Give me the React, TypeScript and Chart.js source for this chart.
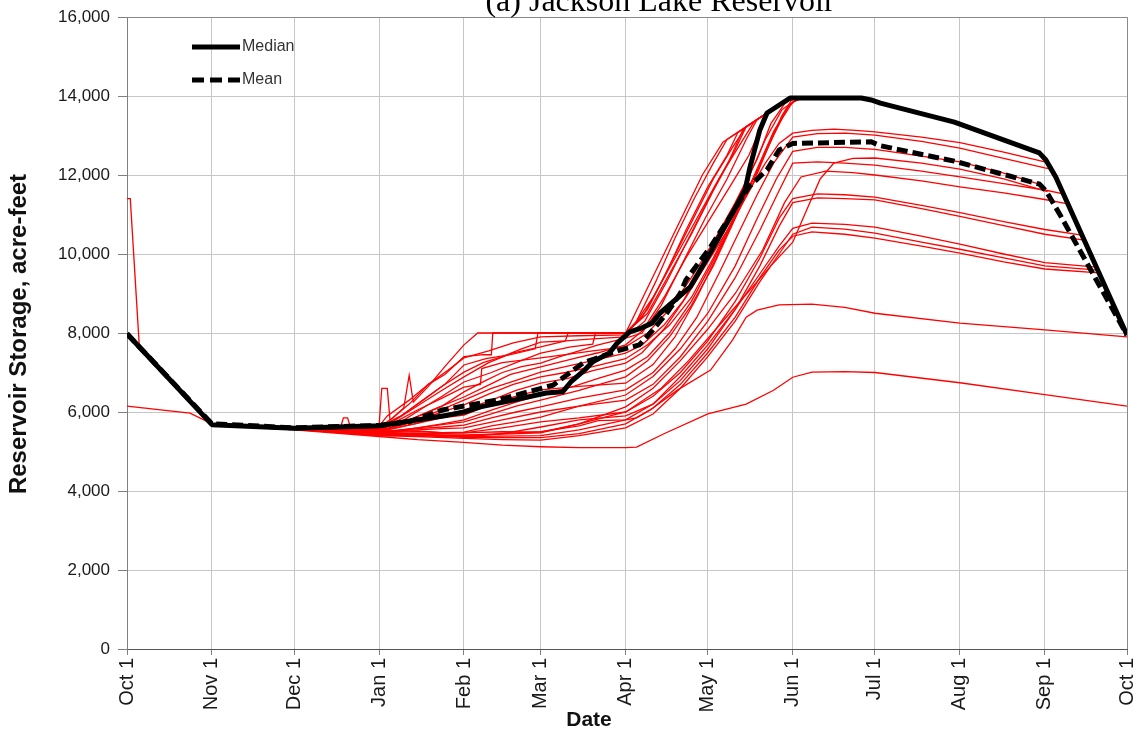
import { useEffect, useRef } from "react";
import { Chart, registerables } from "chart.js";

Chart.register(...registerables);

// Water-year axis: day 0 = Oct 1, day 365 = the following Oct 1
const MONTH_DAYS = [0, 31, 61, 92, 123, 151, 182, 212, 243, 273, 304, 335, 365];
const MONTH_LABELS = ["Oct 1", "Nov 1", "Dec 1", "Jan 1", "Feb 1", "Mar 1", "Apr 1", "May 1", "Jun 1", "Jul 1", "Aug 1", "Sep 1", "Oct 1"];
const Y_MIN = 0;
const Y_MAX = 16000;
const Y_STEP = 2000;

const TITLE = "(a) Jackson Lake Reservoir";
const X_TITLE = "Date";
const Y_TITLE = "Reservoir Storage, acre-feet";

// Median and mean storage, [day, acre-feet]
const median: number[][] = [[0, 7980], [31, 5680], [61, 5590], [92, 5650], [117, 5920], [123, 6000], [129, 6130], [141, 6300], [153, 6480], [159, 6510], [162, 6760], [167, 7060], [170, 7270], [176, 7490], [179, 7750], [183.5, 8030], [188, 8130], [191.6, 8250], [194.5, 8500], [205.5, 9160], [212.8, 10020], [221, 11030], [225.6, 11620], [227.4, 12200], [231, 13140], [233.6, 13570], [242, 13950], [268, 13950], [271.6, 13900], [275, 13820], [302, 13340], [333, 12560], [335.4, 12380], [339, 11950], [365, 7950]];
const mean: number[][] = [[0, 7980], [31, 5700], [61, 5600], [92, 5660], [103, 5750], [115, 6050], [123, 6150], [135, 6300], [147, 6520], [155.5, 6680], [166.4, 7240], [172.6, 7390], [180, 7570], [187, 7700], [191, 8000], [197, 8500], [202, 9010], [204, 9340], [213, 10180], [221, 11040], [227, 11700], [233.6, 12130], [238, 12630], [243, 12800], [271.6, 12840], [275, 12740], [302, 12350], [333, 11770], [335.4, 11600], [340.5, 11000], [365, 7950]];

// Individual simulated years, [day, acre-feet]
const trace01 = [[0, 11400], [1.2, 11400], [4.5, 7660], [31, 5700], [61, 5600], [92, 5640], [95, 5900], [103, 6300], [110, 6700], [116, 6950], [123, 7400], [130, 7450], [133, 7450], [133.5, 8000], [182, 8000], [189, 9000], [196, 10000], [203, 11000], [210, 12000], [217.5, 12830], [225, 13175], [233.6, 13570], [243, 13950]];
const trace02 = [[31, 5700], [61, 5600], [92, 5620], [97, 5850], [101, 6100], [103, 6930], [104.5, 6250], [110, 6650], [116, 7150], [123, 7700], [128, 8000], [182, 8000], [186, 8300], [193, 9300], [200, 10400], [207, 11400], [214, 12300], [219, 12900], [226, 13220], [233.6, 13570], [243, 13950]];
const trace03 = [[31, 5700], [61, 5590], [92, 5600], [100, 5900], [110, 6400], [116, 6700], [123, 7190], [131, 7350], [140, 7450], [149, 7600], [150, 8000], [182, 8000], [188, 8400], [196, 9400], [204, 10600], [212, 11700], [219, 12500], [223, 13080], [233.6, 13570], [243, 13950]];
const trace04 = [[31, 5700], [61, 5600], [92, 5580], [98, 5800], [106, 6150], [115, 6550], [123, 6890], [132, 7250], [141, 7500], [151, 7650], [160, 7800], [161, 8000], [182, 8000], [190, 8500], [198, 9500], [206, 10500], [214, 11600], [221, 12500], [226, 13221], [233.6, 13570], [243, 13950]];
const trace05 = [[31, 5700], [61, 5580], [92, 5560], [100, 5750], [108, 6100], [115, 6400], [123, 6760], [133, 7000], [142, 7250], [151, 7490], [162, 7650], [170, 7720], [171, 8000], [182, 8000], [185, 8200], [192, 8900], [200, 9900], [208, 10900], [216, 11900], [224, 12800], [229, 13359], [233.6, 13570], [243, 13950]];
const trace06 = [[31, 5700], [61, 5600], [92, 5650], [93, 6600], [95, 6600], [96, 5800], [103, 6200], [110, 6700], [117, 7050], [123, 7370], [132, 7550], [141, 7750], [151, 7900], [165, 7930], [182, 7950], [190, 8600], [198, 9700], [206, 10800], [214, 11900], [221, 12700], [226, 13221], [233.6, 13570], [243, 13950]];
const trace07 = [[31, 5700], [61, 5610], [78, 5620], [79, 5850], [80.5, 5850], [81.5, 5630], [92, 5620], [100, 5900], [108, 6300], [115, 6650], [123, 7010], [130, 7250], [137, 7400], [144, 7600], [151, 7770], [160, 7800], [170, 7850], [182, 7900], [189, 8300], [197, 9300], [205, 10400], [213, 11500], [220, 12400], [225, 13175], [233.6, 13570], [243, 13950]];
const trace08 = [[31, 5700], [61, 5580], [92, 5550], [105, 5850], [115, 6150], [123, 6510], [131, 6800], [137, 7000], [144, 7150], [151, 7240], [158, 7400], [165, 7550], [172, 7700], [182, 7870], [188, 8000], [195, 8700], [203, 9800], [211, 10900], [219, 11900], [226, 12900], [230, 13405], [233.6, 13570], [243, 13950]];
const trace09 = [[31, 5700], [61, 5590], [92, 5570], [103, 5800], [113, 6100], [123, 6380], [131, 6650], [140, 6950], [151, 7140], [163, 7350], [172, 7500], [182, 7700], [188, 8050], [196, 8900], [204, 9900], [212, 10800], [220, 11700], [227, 12500], [232, 13300], [235, 13650], [243, 13950]];
const trace10 = [[31, 5700], [61, 5600], [92, 5600], [98, 5750], [106, 6050], [115, 6350], [123, 6630], [129, 6700], [129.5, 7100], [137, 7250], [151, 7370], [160, 7450], [170, 7550], [182, 7650], [190, 8000], [198, 8600], [206, 9400], [214, 10300], [222, 11300], [230, 12400], [235, 13300], [240, 13800], [243, 13950]];
const trace11 = [[31, 5700], [61, 5580], [92, 5540], [102, 5700], [112, 5980], [123, 6300], [133, 6600], [142, 6800], [151, 7010], [160, 7150], [170, 7300], [182, 7490], [188, 7700], [196, 8200], [204, 8900], [212, 9800], [220, 10700], [228, 11700], [234, 12700], [239, 13500], [243, 13950]];
const trace12 = [[31, 5700], [61, 5580], [92, 5520], [104, 5750], [114, 5980], [123, 6180], [132, 6450], [141, 6700], [151, 6890], [160, 7000], [170, 7150], [182, 7350], [190, 7700], [198, 8200], [206, 8900], [214, 9900], [222, 11000], [230, 12100], [236, 13000], [241, 13700], [245, 13950]];
const trace13 = [[31, 5700], [61, 5570], [92, 5500], [105, 5700], [115, 5900], [123, 6050], [133, 6300], [142, 6550], [151, 6730], [161, 6850], [170, 7050], [182, 7240], [188, 7500], [196, 8100], [203, 8800], [210, 9700], [218, 10700], [226, 11800], [233, 12900], [239, 13650], [245, 13950]];
const trace14 = [[31, 5700], [61, 5570], [92, 5480], [106, 5600], [115, 5700], [123, 5800], [133, 6050], [142, 6250], [151, 6430], [163, 6650], [172, 6850], [182, 7060], [190, 7400], [198, 8000], [206, 8800], [213, 9700], [221, 10800], [229, 12000], [236, 13100], [242, 13800], [246, 13950]];
const trace15 = [[31, 5700], [61, 5560], [92, 5460], [106, 5600], [115, 5680], [123, 5750], [133, 5950], [142, 6150], [151, 6300], [165, 6550], [175, 6750], [182, 6890], [190, 7300], [198, 7900], [206, 8700], [214, 9700], [222, 10900], [230, 12100], [237, 13200], [243, 13850], [247, 13950]];
const trace16 = [[31, 5700], [61, 5580], [92, 5520], [105, 5700], [115, 5850], [123, 5920], [133, 6200], [142, 6400], [151, 6560], [165, 6650], [182, 6730], [192, 7200], [200, 7900], [208, 8900], [215, 9900], [221, 10800], [227, 11600], [233, 12300], [238, 12800], [243, 13060], [250, 13130], [258, 13160], [266, 13130], [273, 13090], [290, 12960], [304, 12820], [320, 12580], [335, 12330], [336.5, 12280]];
const trace17 = [[31, 5700], [61, 5570], [92, 5500], [106, 5580], [115, 5620], [123, 5670], [133, 5850], [142, 6000], [151, 6130], [165, 6350], [182, 6560], [192, 7000], [200, 7600], [208, 8400], [216, 9500], [223, 10500], [230, 11500], [236, 12300], [243, 12960], [252, 13050], [262, 13060], [273, 13010], [290, 12850], [304, 12680], [320, 12420], [335, 12180], [337.3, 12150]];
const trace18 = [[31, 5700], [61, 5570], [92, 5480], [106, 5500], [115, 5480], [123, 5490], [133, 5650], [142, 5750], [151, 5870], [165, 6150], [182, 6430], [192, 6900], [202, 7600], [212, 8500], [222, 9700], [230, 10900], [237, 11900], [243, 12600], [252, 12700], [262, 12700], [273, 12650], [290, 12480], [304, 12330], [320, 12050], [333, 11770]];
const trace19 = [[31, 5700], [61, 5560], [92, 5440], [110, 5420], [123, 5420], [137, 5440], [151, 5470], [165, 5700], [182, 6000], [195, 6600], [205, 7300], [215, 8100], [225, 8900], [235, 9700], [243, 10300], [248, 11100], [253, 11900], [258, 12300], [265, 12420], [273, 12430], [290, 12300], [304, 12150], [320, 11900], [336, 11580]];
const trace20 = [[31, 5700], [61, 5580], [92, 5510], [106, 5550], [115, 5580], [123, 5600], [137, 5800], [151, 6000], [165, 6150], [182, 6300], [192, 6700], [202, 7400], [212, 8300], [222, 9400], [231, 10600], [238, 11600], [243, 12300], [252, 12330], [262, 12300], [273, 12250], [290, 12100], [304, 11950], [320, 11780], [335, 11620], [341.8, 11520]];
const trace21 = [[31, 5700], [61, 5570], [92, 5450], [110, 5450], [123, 5470], [137, 5500], [151, 5490], [165, 5700], [182, 6130], [192, 6600], [202, 7300], [212, 8100], [222, 9000], [232, 10100], [240, 11300], [246, 11950], [255, 12100], [265, 12060], [273, 12000], [290, 11850], [304, 11700], [320, 11550], [335, 11380], [343.4, 11270]];
const trace22 = [[31, 5700], [61, 5580], [92, 5500], [106, 5520], [115, 5480], [123, 5470], [137, 5600], [151, 5750], [165, 5850], [182, 6000], [192, 6400], [202, 7000], [212, 7800], [222, 8800], [231, 9900], [238, 10900], [243, 11400], [252, 11520], [262, 11500], [273, 11440], [290, 11230], [304, 11050], [320, 10820], [335, 10620], [348.5, 10480]];
const trace23 = [[31, 5700], [61, 5570], [92, 5470], [106, 5450], [115, 5400], [123, 5370], [137, 5450], [151, 5620], [165, 5800], [182, 5900], [192, 6200], [202, 6800], [212, 7600], [222, 8600], [231, 9700], [238, 10700], [243, 11300], [252, 11420], [262, 11400], [273, 11370], [290, 11150], [304, 10950], [320, 10720], [335, 10500], [349.4, 10350]];
const trace24 = [[31, 5700], [61, 5570], [92, 5420], [106, 5420], [123, 5380], [137, 5390], [151, 5400], [165, 5550], [182, 5800], [192, 6200], [202, 6900], [212, 7700], [222, 8600], [231, 9500], [238, 10200], [243, 10650], [250, 10780], [262, 10750], [273, 10680], [290, 10450], [304, 10250], [320, 10000], [335, 9780], [353.8, 9670]];
const trace25 = [[31, 5700], [61, 5560], [92, 5400], [106, 5380], [123, 5330], [137, 5300], [151, 5290], [165, 5400], [182, 5600], [192, 5950], [202, 6600], [212, 7400], [222, 8300], [231, 9300], [238, 10000], [243, 10500], [250, 10680], [262, 10630], [273, 10530], [290, 10300], [304, 10120], [320, 9900], [335, 9700], [354.3, 9590]];
const trace26 = [[31, 5700], [61, 5560], [92, 5410], [106, 5400], [123, 5360], [137, 5350], [151, 5350], [165, 5450], [182, 5700], [192, 6100], [202, 6700], [212, 7500], [222, 8400], [231, 9400], [238, 10100], [243, 10450], [250, 10560], [262, 10500], [273, 10400], [290, 10200], [304, 10020], [320, 9800], [335, 9620], [354.8, 9520]];
const trace27 = [[31, 5700], [61, 5560], [92, 5450], [106, 5420], [123, 5400], [137, 5450], [151, 5500], [165, 5650], [172, 5780], [182, 5800], [186, 5850], [191, 6050], [201, 6560], [213, 7060], [221, 7820], [226, 8400], [230, 8580], [238, 8710], [250, 8730], [262, 8650], [273, 8500], [304, 8250], [335, 8080], [365, 7900]];
const trace28 = [[0, 6150], [23, 5970], [31, 5700], [61, 5550], [92, 5380], [106, 5300], [123, 5230], [137, 5160], [151, 5120], [165, 5100], [182, 5100], [186, 5110], [196, 5450], [212, 5950], [226, 6200], [236, 6550], [243, 6880], [250, 7010], [262, 7020], [273, 7000], [304, 6740], [335, 6440], [365, 6150]];

const TRACES = [trace01, trace02, trace03, trace04, trace05, trace06, trace07, trace08, trace09, trace10, trace11, trace12, trace13, trace14, trace15, trace16, trace17, trace18, trace19, trace20, trace21, trace22, trace23, trace24, trace25, trace26, trace27, trace28];

const SANS = "'Liberation Sans', Arial, sans-serif";
const SERIF = "'Liberation Serif', 'Times New Roman', serif";

// Title, legend, axis titles and the plot-area frame
const decorations = {
  id: "decorations",
  afterDraw(chart: any) {
    const { ctx, chartArea: a } = chart;
    ctx.save();

    // top and right frame of the plot area
    ctx.strokeStyle = "#8a8a8a";
    ctx.lineWidth = 1;
    ctx.beginPath();
    ctx.moveTo(a.left, a.top + 0.5);
    ctx.lineTo(a.right + 0.5, a.top + 0.5);
    ctx.lineTo(a.right + 0.5, a.bottom);
    ctx.stroke();

    // title
    ctx.fillStyle = "#000";
    ctx.font = `32px ${SERIF}`;
    ctx.textAlign = "center";
    ctx.textBaseline = "alphabetic";
    ctx.fillText(TITLE, 660, 11);

    // legend
    ctx.strokeStyle = "#000";
    ctx.lineWidth = 5;
    ctx.lineCap = "butt";
    ctx.beginPath();
    ctx.moveTo(192, 47);
    ctx.lineTo(240, 47);
    ctx.stroke();
    ctx.setLineDash([12, 6]);
    ctx.beginPath();
    ctx.moveTo(192, 80);
    ctx.lineTo(240, 80);
    ctx.stroke();
    ctx.setLineDash([]);
    ctx.fillStyle = "#333";
    ctx.font = `16px ${SANS}`;
    ctx.textAlign = "left";
    ctx.textBaseline = "middle";
    ctx.fillText("Median", 242, 47);
    ctx.fillText("Mean", 242, 80);

    // axis titles
    ctx.fillStyle = "#111";
    ctx.textAlign = "center";
    ctx.textBaseline = "middle";
    ctx.font = `bold 21px ${SANS}`;
    ctx.fillText(X_TITLE, 589, 720);
    ctx.font = `bold 24px ${SANS}`;
    ctx.translate(19, 334);
    ctx.rotate(-Math.PI / 2);
    ctx.fillText(Y_TITLE, 0, 0);

    ctx.restore();
  },
};

export default function App() {
  const ref = useRef<HTMLCanvasElement>(null);

  useEffect(() => {
    if (!ref.current) return;
    Chart.defaults.font.family = SANS;

    const datasets: any[] = [
      {
        label: "Median",
        data: median,
        borderColor: "#000",
        borderWidth: 5,
        borderJoinStyle: "round",
        pointRadius: 0,
        fill: false,
        tension: 0,
      },
      {
        label: "Mean",
        data: mean,
        borderColor: "#000",
        borderWidth: 5,
        borderDash: [11, 5],
        pointRadius: 0,
        fill: false,
        tension: 0,
      },
      ...TRACES.map((t, i) => ({
        label: `Year ${i + 1}`,
        data: t,
        borderColor: "#ff0000",
        borderWidth: 1.3,
        pointRadius: 0,
        fill: false,
        tension: 0,
      })),
    ];

    const chart = new Chart(ref.current, {
      type: "line",
      data: { datasets },
      options: {
        animation: false,
        responsive: false,
        devicePixelRatio: 1,
        layout: { padding: { top: 17, right: 16, left: 0, bottom: 0 } },
        plugins: {
          legend: { display: false },
          tooltip: { enabled: false },
          title: { display: false },
        },
        scales: {
          x: {
            type: "linear",
            min: MONTH_DAYS[0],
            max: MONTH_DAYS[MONTH_DAYS.length - 1],
            afterBuildTicks: (s: any) => {
              s.ticks = MONTH_DAYS.map((v) => ({ value: v }));
            },
            afterFit: (s: any) => {
              s.height = 83;
              s.paddingLeft = 0;
              s.paddingRight = 0;
            },
            ticks: {
              autoSkip: false,
              minRotation: 90,
              maxRotation: 90,
              padding: 3,
              color: "#1a1a1a",
              font: { size: 20 },
              callback: (_v: any, i: number) => MONTH_LABELS[i],
            },
            grid: { color: "#c6c6c6", tickColor: "#808080", tickLength: 6, lineWidth: 1 },
            border: { color: "#555", width: 1 },
          },
          y: {
            type: "linear",
            min: Y_MIN,
            max: Y_MAX,
            afterFit: (s: any) => {
              s.width = 127;
              s.paddingTop = 0;
              s.paddingBottom = 0;
            },
            ticks: {
              stepSize: Y_STEP,
              padding: 8,
              color: "#1a1a1a",
              font: { size: 17 },
              callback: (v: any) => Number(v).toLocaleString("en-US"),
            },
            grid: { color: "#c6c6c6", tickColor: "#808080", tickLength: 9, lineWidth: 1 },
            border: { color: "#808080", width: 1 },
          },
        },
      },
      plugins: [decorations],
    } as any);

    return () => chart.destroy();
  }, []);

  return (
    <canvas
      ref={ref}
      width={1143}
      height={732}
      style={{ position: "absolute", left: 0, top: 0, display: "block" }}
    />
  );
}
